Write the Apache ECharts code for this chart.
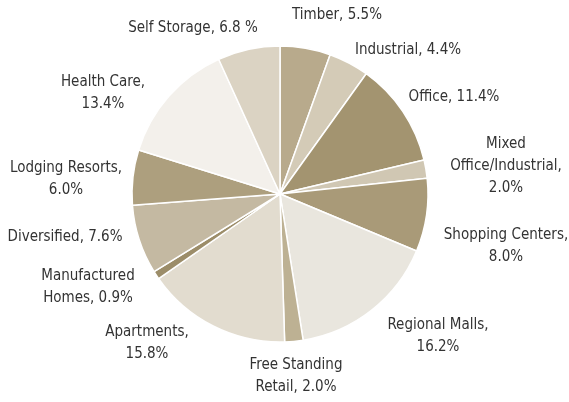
<!DOCTYPE html>
<html>
<head>
<meta charset="utf-8">
<script src="https://cdn.jsdelivr.net/npm/echarts@6/dist/echarts.min.js"></script>
<style>
  html, body { margin: 0; padding: 0; background: #fff; }
  #chart { width: 569px; height: 402px; }
</style>
</head>
<body>
<div id="chart"></div>
<script>
  var chart = echarts.init(document.getElementById('chart'))

  // sector allocation, clockwise from 12 o'clock
  var sectors = [
    { name: 'Timber', value: 5.5, text: 'Timber, 5.5%', color: '#b8aa8c', pos: [337, 15] },
    { name: 'Industrial', value: 4.4, text: 'Industrial, 4.4%', color: '#d4cbb7', pos: [408, 50] },
    { name: 'Office', value: 11.4, text: 'Office, 11.4%', color: '#a39470', pos: [454, 97] },
    { name: 'Mixed Office/Industrial', value: 2.0, text: 'Mixed\nOffice/Industrial,\n2.0%', color: '#d0c7b3', pos: [506, 166] },
    { name: 'Shopping Centers', value: 8.0, text: 'Shopping Centers,\n8.0%', color: '#a99a78', pos: [506, 246] },
    { name: 'Regional Malls', value: 16.2, text: 'Regional Malls,\n16.2%', color: '#e9e6de', pos: [438, 336] },
    { name: 'Free Standing Retail', value: 2.0, text: 'Free Standing\nRetail, 2.0%', color: '#bdb193', pos: [296, 376] },
    { name: 'Apartments', value: 15.8, text: 'Apartments,\n15.8%', color: '#e2dccf', pos: [147, 343] },
    { name: 'Manufactured Homes', value: 0.9, text: 'Manufactured\nHomes, 0.9%', color: '#9c8d69', pos: [88, 287] },
    { name: 'Diversified', value: 7.6, text: 'Diversified, 7.6%', color: '#c4b9a2', pos: [65, 237] },
    { name: 'Lodging Resorts', value: 6.0, text: 'Lodging Resorts,\n6.0%', color: '#ad9f7e', pos: [66, 179] },
    { name: 'Health Care', value: 13.4, text: 'Health Care,\n13.4%', color: '#f3f0eb', pos: [103, 93] },
    { name: 'Self Storage', value: 6.8, text: 'Self Storage, 6.8 %', color: '#dbd3c3', pos: [193, 28] }
  ]

  chart.setOption({
    animation: false,
    series: [
      {
        type: 'pie',
        center: [280, 194],
        radius: 148,
        startAngle: 90,
        clockwise: true,
        itemStyle: {
          borderColor: '#fff',
          borderWidth: 1.5
        },
        label: {
          show: true,
          position: 'outside',
          overflow: 'none',
          color: '#333',
          fontSize: 15,
          lineHeight: 22,
          fontFamily: '"Liberation Sans Narrow", "DejaVu Sans Condensed", sans-serif',
          formatter: function (p) {
            return sectors[p.dataIndex].text
          }
        },
        labelLine: { show: false },
        labelLayout: function (params) {
          var pos = sectors[params.dataIndex].pos
          return {
            x: pos[0],
            y: pos[1],
            align: 'center',
            verticalAlign: 'middle'
          }
        },
        emphasis: { disabled: true },
        data: sectors.map(function (s) {
          return { name: s.name, value: s.value, itemStyle: { color: s.color } }
        })
      }
    ]
  })
</script>
</body>
</html>
